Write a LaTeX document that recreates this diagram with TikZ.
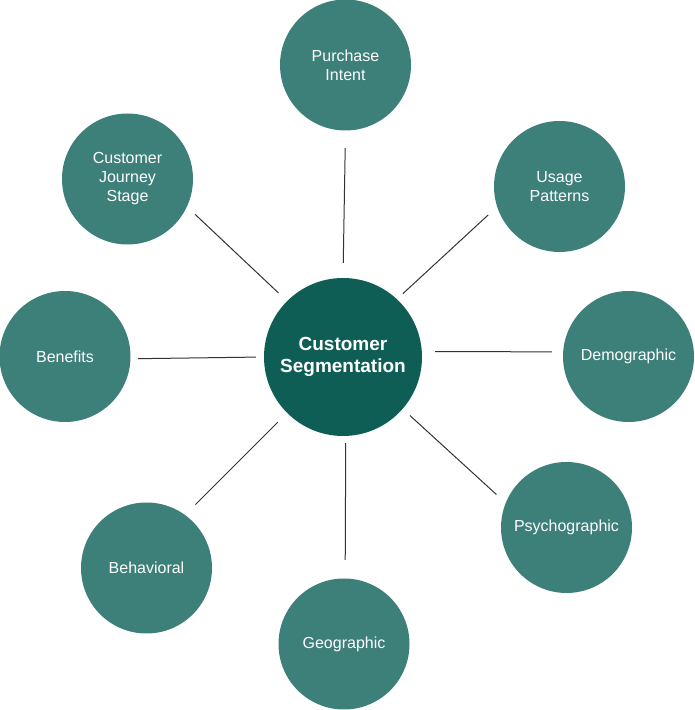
\documentclass[tikz,border=0pt]{standalone}
\usepackage{fontspec}
\setmainfont{Liberation Sans}
\definecolor{hubcol}{HTML}{0E5E56}
\definecolor{leafcol}{HTML}{3D7F79}
\definecolor{linkcol}{HTML}{333333}
\begin{document}
\begin{tikzpicture}[x=1pt,y=1pt,
  hub/.style={circle,fill=hubcol,draw=none,minimum size=158pt,inner sep=0pt,text=white,align=center,
    font=\fontsize{19}{22}\selectfont\bfseries},
  leaf/.style={circle,fill=leafcol,draw=none,minimum size=131pt,inner sep=0pt,text=white,align=center,
    font=\fontsize{16}{19}\selectfont},
  link/.style={draw=linkcol,line width=1pt}]
\useasboundingbox (0,0) rectangle (694,710);
\node[hub] (c) at (343,353) {\raisebox{1.5pt}{\parbox{150pt}{\centering Customer\\Segmentation}}};
\node[leaf] (p) at (345.5,645) {Purchase\\Intent};
\node[leaf] (u) at (559.5,523.5) {Usage\\Patterns};
\node[leaf] (d) at (628.5,353.5) {Demographic};
\node[leaf] (s) at (566.5,182.5) {Psychographic};
\node[leaf] (g) at (344,66) {Geographic};
\node[leaf] (b) at (146.5,142) {Behavioral};
\node[leaf] (e) at (65,353.5) {Benefits};
\node[leaf] (j) at (127.5,531) {Customer\\Journey\\Stage};
\draw[link,shorten <=15pt,shorten >=17.5pt] (c.90) -- (p.270);
\draw[link,shorten <=8pt,shorten >=12pt] (c.47) -- (u.198);
\draw[link,shorten <=13pt,shorten >=11pt] (c.4) -- (d.176);
\draw[link,shorten <=9.6pt,shorten >=12.4pt] (c.319) -- (s.158.5);
\draw[link,shorten <=7pt,shorten >=18.5pt] (c.272.5) -- (g.89.5);
\draw[link,shorten <=13pt,shorten >=14.5pt] (c.225) -- (b.54.4);
\draw[link,shorten <=8pt,shorten >=7.5pt] (c.180.7) -- (e.358.8);
\draw[link,shorten <=11.5pt,shorten >=11pt] (c.135) -- (j.335.3);
\end{tikzpicture}
\end{document}
